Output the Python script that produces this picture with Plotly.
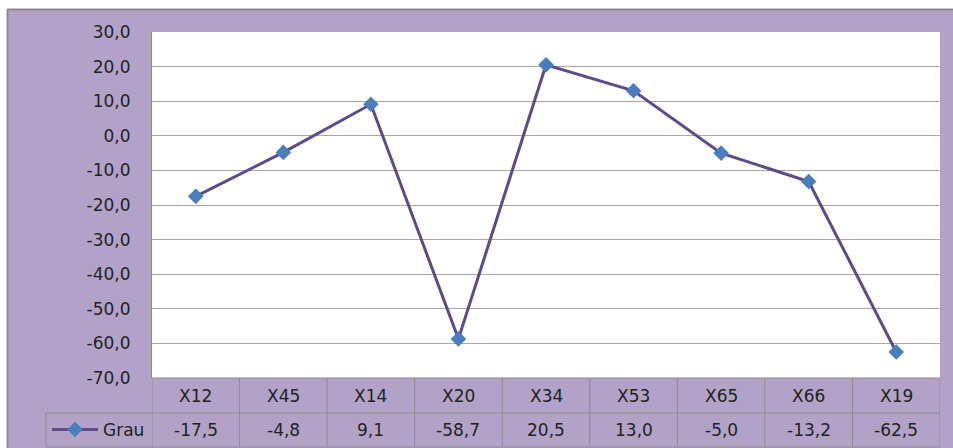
import plotly.graph_objects as go

# Series data
categories = ["X12", "X45", "X14", "X20", "X34", "X53", "X65", "X66", "X19"]
grau = [-17.5, -4.8, 9.1, -58.7, 20.5, 13.0, -5.0, -13.2, -62.5]
series_name = "Grau"

# Value axis ticks
y_ticks = [30, 20, 10, 0, -10, -20, -30, -40, -50, -60, -70]


def fmt(v):
    return f"{v:.1f}".replace(".", ",")


W, H = 953, 448
ML, MR, MT, MB = 152, 13, 32, 70
PW, PH = W - ML - MR, H - MT - MB

BG = "#b2a2c8"
FRAME = "#8c8c8c"
GRID = "#a8a8a8"
TXT = "#222222"
FONT = "DejaVu Sans"
FS = 17


def px(x):
    return (x - ML) / PW


def py(y):
    return (H - MB - y) / PH


fig = go.Figure()
fig.add_trace(go.Scatter(
    x=categories, y=grau, name=series_name,
    mode="lines+markers",
    line=dict(color="#5e4a8b", width=3),
    marker=dict(symbol="diamond", size=12, color="#4a7ebb"),
    showlegend=True,
))

shapes = []
# white margin strips with a grey frame edge at top and left
shapes.append(dict(type="rect", xref="paper", yref="paper",
                   x0=px(0), x1=px(W), y0=py(9), y1=py(0),
                   fillcolor="white", line=dict(width=0), layer="above"))
shapes.append(dict(type="rect", xref="paper", yref="paper",
                   x0=px(0), x1=px(7), y0=py(H), y1=py(0),
                   fillcolor="white", line=dict(width=0), layer="above"))
# right margin filled plainly in the background colour
shapes.append(dict(type="rect", xref="paper", yref="paper",
                   x0=px(942), x1=px(W + 2), y0=py(H + 2), y1=py(10.5),
                   fillcolor=BG, line=dict(width=0), layer="above"))
shapes.append(dict(type="line", xref="paper", yref="paper",
                   x0=px(7), x1=px(W), y0=py(9.5), y1=py(9.5),
                   line=dict(color=FRAME, width=2)))
shapes.append(dict(type="line", xref="paper", yref="paper",
                   x0=px(7.5), x1=px(7.5), y0=py(9.5), y1=py(H),
                   line=dict(color=FRAME, width=2)))

# data table grid below the plot
row1, row2 = 413, 447
for i in range(len(categories) + 1):
    shapes.append(dict(type="line", xref="x", yref="paper",
                       x0=i - 0.5, x1=i - 0.5, y0=0, y1=py(row2),
                       line=dict(color=FRAME, width=1)))
shapes.append(dict(type="line", xref="paper", yref="paper",
                   x0=px(46), x1=1, y0=py(row1), y1=py(row1),
                   line=dict(color=FRAME, width=1)))
shapes.append(dict(type="line", xref="paper", yref="paper",
                   x0=px(46), x1=1, y0=py(row2), y1=py(row2),
                   line=dict(color=FRAME, width=1)))
shapes.append(dict(type="line", xref="paper", yref="paper",
                   x0=px(46), x1=px(46), y0=py(row1), y1=py(row2),
                   line=dict(color=FRAME, width=1)))
shapes.append(dict(type="line", xref="paper", yref="paper",
                   x0=0, x1=1, y0=0, y1=0,
                   line=dict(color=FRAME, width=1)))

annotations = []
for c, v in zip(categories, grau):
    annotations.append(dict(x=c, xref="x", y=py((378 + row1) / 2), yref="paper",
                            text=c, showarrow=False, yanchor="middle",
                            font=dict(family=FONT, size=FS, color=TXT)))
    annotations.append(dict(x=c, xref="x", y=py((row1 + row2) / 2), yref="paper",
                            text=fmt(v), showarrow=False, yanchor="middle",
                            font=dict(family=FONT, size=FS, color=TXT)))

fig.update_layout(
    width=W, height=H,
    margin=dict(l=ML, r=MR, t=MT, b=MB, autoexpand=False),
    paper_bgcolor=BG, plot_bgcolor="white",
    font=dict(family=FONT, size=FS, color=TXT),
    shapes=shapes, annotations=annotations,
    legend=dict(x=px(47), xanchor="left", y=py((row1 + row2) / 2), yanchor="middle",
                bgcolor="rgba(0,0,0,0)", borderwidth=0, itemwidth=46,
                font=dict(family=FONT, size=FS, color=TXT)),
    xaxis=dict(range=[-0.5, len(categories) - 0.5], showticklabels=False,
               showgrid=False, zeroline=False, showline=False),
    yaxis=dict(range=[-70, 30], tickvals=y_ticks, ticktext=[fmt(t) for t in y_ticks],
               showgrid=True, gridcolor=GRID, gridwidth=1, zeroline=False,
               showline=True, linecolor=FRAME, linewidth=1,
               ticks="", ticklabelstandoff=17,
               tickfont=dict(family=FONT, size=FS, color=TXT)),
)

fig.write_html("out.html")
